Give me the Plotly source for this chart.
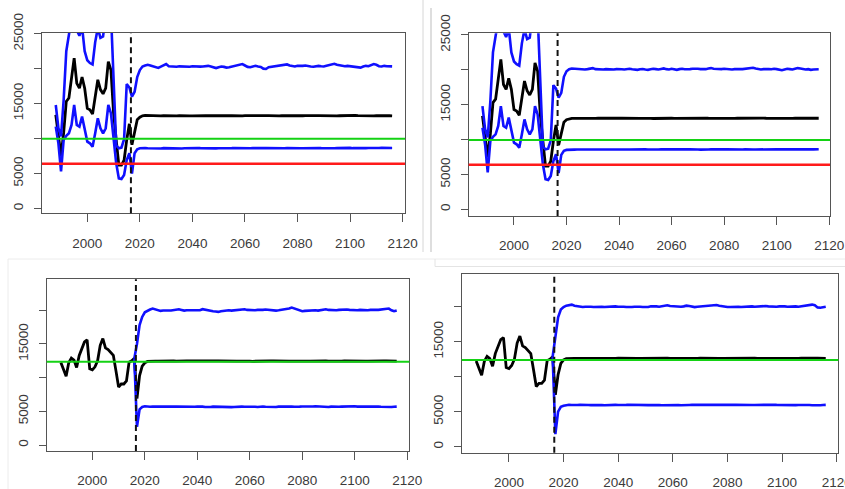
import plotly.graph_objects as go

W, H = 845, 489

HIST_START = 1988
PROJ_START = 2017
CUT_YEAR = 2016.6

# ---------------- top panels: historical estimate with interval ----------------
top_hist_mid = [13400, 10500, 7500, 10800, 15300, 15800, 18900, 21500, 17900, 17200,
                18800, 17200, 14300, 14100, 13500, 16000, 18400, 17000, 16400, 17200,
                21000, 19800, 13600, 9800, 6200, 6200, 6900, 9800, 12100]
top_hist_hi = [14800, 11500, 10300, 15500, 22500, 25500, 28000, 29500, 25500, 24700,
               26000, 22500, 21200, 20800, 20600, 23800, 25800, 24400, 24600, 27500,
               31000, 28000, 18000, 9000, 8600, 8700, 9900, 17800, 17300]
top_hist_lo = [11700, 9300, 5300, 9800, 10400, 10750, 11950, 14800, 11950, 11700,
               13150, 11470, 9560, 9320, 8840, 10750, 12900, 11470, 10750, 11470,
               14800, 13600, 9800, 6450, 4300, 4200, 4780, 6930, 7900]

# top-left projections (2017-2116)
tl_mid = [9100, 11000, 12700, 13050, 13250, 13300, 13280, 13250, 13270, 13300,
          13260, 13240, 13280, 13250, 13260, 13290, 13250, 13230, 13260, 13280,
          13300, 13260, 13240, 13250, 13270, 13260, 13230, 13250, 13280, 13260,
          13250, 13240, 13270, 13290, 13260, 13250, 13230, 13260, 13280, 13250,
          13240, 13220, 13250, 13270, 13260, 13280, 13300, 13270, 13250, 13240,
          13260, 13280, 13290, 13260, 13250, 13230, 13250, 13270, 13260, 13240,
          13260, 13280, 13300, 13270, 13250, 13260, 13280, 13260, 13240, 13250,
          13270, 13290, 13270, 13250, 13260, 13280, 13260, 13250, 13230, 13260,
          13280, 13270, 13250, 13260, 13290, 13300, 13270, 13250, 13240, 13260,
          13280, 13270, 13250, 13260, 13280, 13260, 13240, 13260, 13270, 13250]
tl_hi = [16000, 16700, 18800, 19800, 20300, 20450, 20550, 20450, 20350, 20250,
         20100, 20300, 20450, 20650, 20350, 20300, 20320, 20280, 20330, 20300,
         20350, 20300, 20280, 20340, 20300, 20330, 20290, 20310, 20350, 20400,
         20300, 20150, 20080, 20200, 20300, 20250, 20150, 20200, 20300, 20350,
         20400, 20500, 20650, 20450, 20250, 20200, 20350, 20400, 20300, 20250,
         20000, 19950, 20200, 20250, 20300, 20400, 20350, 20450, 20550, 20600,
         20450, 20350, 20300, 20400, 20350, 20400, 20450, 20350, 20300, 20280,
         20350, 20400, 20330, 20300, 20400, 20500, 20600, 20700, 20550, 20450,
         20400, 20350, 20400, 20350, 20300, 20200, 20100, 20150, 20300, 20400,
         20350, 20500, 20650, 20550, 20350, 20300, 20400, 20350, 20300, 20320]
tl_lo = [5000, 7900, 8450, 8600, 8650, 8620, 8600, 8580, 8620, 8640,
         8600, 8580, 8620, 8600, 8590, 8610, 8640, 8620, 8600, 8580,
         8600, 8620, 8650, 8680, 8700, 8650, 8620, 8600, 8580, 8600,
         8620, 8600, 8590, 8610, 8600, 8580, 8560, 8600, 8620, 8640,
         8620, 8600, 8580, 8560, 8580, 8600, 8620, 8600, 8580, 8600,
         8620, 8640, 8620, 8600, 8580, 8560, 8540, 8560, 8600, 8620,
         8600, 8620, 8640, 8620, 8600, 8610, 8630, 8600, 8580, 8600,
         8620, 8650, 8620, 8600, 8580, 8560, 8580, 8600, 8620, 8640,
         8620, 8600, 8640, 8660, 8620, 8600, 8580, 8560, 8580, 8620,
         8640, 8620, 8600, 8620, 8640, 8660, 8640, 8620, 8640, 8650]

# top-right projections (2017-2116)
tr_mid = [9200, 11000, 12500, 12850, 12980, 13030, 13050, 13040, 13060, 13050,
          13040, 13060, 13050, 13030, 13050, 13070, 13060, 13040, 13050, 13060,
          13070, 13050, 13040, 13060, 13080, 13060, 13040, 13030, 13050, 13070,
          13060, 13040, 13050, 13070, 13060, 13040, 13020, 13040, 13060, 13050,
          13040, 13060, 13080, 13060, 13040, 13050, 13070, 13060, 13040, 13030,
          13050, 13070, 13060, 13040, 13050, 13060, 13080, 13060, 13050, 13040,
          13060, 13050, 13030, 13050, 13070, 13060, 13040, 13050, 13060, 13070,
          13060, 13040, 13050, 13070, 13060, 13050, 13040, 13060, 13070, 13060,
          13050, 13040, 13060, 13080, 13070, 13050, 13060, 13070, 13060, 13050,
          13060, 13070, 13060, 13050, 13060, 13080, 13070, 13060, 13050, 13060]
tr_hi = [16000, 16700, 19000, 19800, 20100, 20200, 20150, 20100, 20050, 20100,
         20050, 20100, 20150, 20250, 20100, 20050, 20080, 20050, 20100, 20060,
         20080, 20050, 20100, 20120, 20080, 20050, 20100, 20150, 20080, 20050,
         20000, 20080, 20120, 20050, 20000, 20080, 20150, 20100, 20050, 20120,
         20200, 20100, 20050, 20150, 20080, 20000, 20100, 20150, 20080, 20050,
         20100, 20150, 20200, 20150, 20100, 20050, 20100, 20200, 20250, 20150,
         20100, 20050, 20100, 20150, 20100, 20080, 20050, 20100, 20150, 20120,
         20100, 20150, 20200, 20250, 20300, 20200, 20100, 20050, 20100, 20150,
         20100, 20080, 20150, 20100, 20000, 19950, 20050, 20150, 20100, 20050,
         20150, 20250, 20200, 20100, 20050, 20100, 20000, 20050, 20100, 20080]
tr_lo = [5200, 7800, 8400, 8520, 8560, 8580, 8560, 8570, 8580, 8560,
         8570, 8590, 8580, 8560, 8550, 8570, 8590, 8600, 8580, 8570,
         8580, 8600, 8620, 8640, 8620, 8600, 8580, 8570, 8590, 8600,
         8580, 8560, 8570, 8590, 8580, 8560, 8540, 8560, 8580, 8600,
         8590, 8570, 8560, 8580, 8600, 8580, 8560, 8550, 8570, 8590,
         8600, 8620, 8600, 8580, 8560, 8540, 8560, 8580, 8600, 8620,
         8600, 8580, 8590, 8610, 8600, 8580, 8560, 8580, 8600, 8590,
         8580, 8600, 8620, 8600, 8580, 8570, 8590, 8610, 8600, 8580,
         8560, 8580, 8600, 8620, 8600, 8580, 8560, 8570, 8590, 8600,
         8620, 8600, 8580, 8590, 8610, 8620, 8600, 8590, 8600, 8610]

# ---------------- bottom panels: historical series only ----------------
bot_hist_mid = [12250, 11200, 10200, 12200, 12900, 12600, 11500, 13300, 14300, 15300,
                15600, 11300, 11150, 11600, 12500, 14800, 15800, 14400, 14150, 13700,
                13300, 11000, 8600, 9050, 9050, 9500, 12300, 12500, 12850]

bl_mid = [6900, 10300, 11700, 12200, 12400, 12450, 12470, 12450, 12440, 12460,
          12480, 12460, 12440, 12450, 12470, 12460, 12440, 12430, 12450, 12470,
          12480, 12460, 12450, 12440, 12460, 12480, 12470, 12450, 12440, 12460,
          12470, 12490, 12470, 12450, 12430, 12450, 12470, 12460, 12440, 12450,
          12470, 12480, 12460, 12440, 12420, 12440, 12460, 12470, 12450, 12440,
          12460, 12480, 12470, 12450, 12460, 12480, 12490, 12470, 12450, 12460,
          12440, 12450, 12470, 12480, 12460, 12440, 12450, 12470, 12460, 12450,
          12470, 12490, 12480, 12460, 12440, 12450, 12470, 12460, 12450, 12470,
          12480, 12470, 12450, 12460, 12480, 12500, 12480, 12460, 12450, 12470,
          12480, 12460, 12450, 12470, 12490, 12480, 12470, 12460, 12470, 12460]
bl_hi = [15000, 17800, 19000, 19700, 19950, 20100, 20250, 20100, 19950, 19900,
         19950, 20000, 19950, 19950, 20050, 20100, 20150, 20050, 19950, 20000,
         20000, 19950, 20050, 20050, 20000, 20150, 20050, 19950, 19900, 19850,
         19800, 19750, 19850, 19900, 20000, 20000, 19950, 20000, 20050, 20100,
         20200, 20150, 20050, 20000, 19950, 20000, 20050, 20000, 20050, 20100,
         20050, 20000, 19950, 19950, 20000, 20050, 20100, 20150, 20250, 20400,
         20250, 20100, 19950, 19850, 19900, 19950, 20000, 20050, 20000, 19950,
         20000, 20100, 20150, 20050, 20000, 19950, 20000, 20050, 20100, 20150,
         20100, 20050, 20000, 19950, 20000, 20050, 20000, 19950, 20000, 20050,
         20100, 20050, 20050, 20100, 20200, 20300, 20250, 20000, 19850, 19950]
bl_lo = [2700, 5300, 5650, 5750, 5700, 5680, 5720, 5700, 5650, 5680,
         5700, 5720, 5680, 5650, 5700, 5720, 5700, 5680, 5650, 5700,
         5720, 5700, 5680, 5700, 5740, 5700, 5650, 5620, 5650, 5700,
         5680, 5700, 5720, 5680, 5650, 5600, 5620, 5650, 5700, 5720,
         5700, 5680, 5700, 5740, 5720, 5680, 5650, 5700, 5720, 5680,
         5650, 5600, 5620, 5650, 5700, 5720, 5680, 5700, 5740, 5720,
         5680, 5650, 5700, 5720, 5700, 5680, 5700, 5720, 5740, 5700,
         5680, 5700, 5660, 5650, 5700, 5730, 5700, 5680, 5700, 5720,
         5700, 5680, 5720, 5740, 5700, 5680, 5650, 5680, 5700, 5720,
         5740, 5720, 5700, 5680, 5650, 5630, 5600, 5640, 5680, 5700]

br_mid = [7400, 10300, 11900, 12400, 12580, 12620, 12640, 12620, 12610, 12630,
          12620, 12600, 12620, 12640, 12630, 12610, 12600, 12620, 12640, 12630,
          12620, 12610, 12630, 12650, 12630, 12610, 12620, 12640, 12620, 12600,
          12610, 12630, 12640, 12620, 12600, 12610, 12630, 12620, 12610, 12630,
          12650, 12640, 12620, 12610, 12630, 12620, 12600, 12620, 12640, 12630,
          12610, 12600, 12620, 12640, 12650, 12630, 12620, 12610, 12630, 12640,
          12620, 12600, 12610, 12630, 12640, 12620, 12610, 12630, 12650, 12640,
          12620, 12610, 12630, 12640, 12620, 12610, 12630, 12650, 12640, 12620,
          12610, 12630, 12640, 12620, 12630, 12650, 12640, 12620, 12610, 12630,
          12640, 12660, 12640, 12620, 12630, 12650, 12640, 12630, 12620, 12630]
br_hi = [15900, 18500, 19600, 19950, 20150, 20250, 20300, 20150, 20050, 20000,
         19950, 20000, 20050, 20000, 19950, 19980, 20020, 20000, 19950, 20000,
         20050, 20100, 20050, 20000, 20050, 20000, 19950, 19900, 19950, 20000,
         20050, 20000, 19950, 19900, 19950, 20050, 20100, 20050, 20000, 20050,
         20100, 20200, 20100, 20050, 20000, 19950, 20000, 20050, 20150, 20100,
         20000, 19950, 20000, 20050, 20100, 20050, 20100, 20150, 20200, 20250,
         20150, 20050, 20000, 19950, 19950, 20000, 20050, 20000, 19950, 20000,
         20050, 20100, 20050, 20000, 20050, 20100, 20150, 20100, 20050, 20000,
         19950, 20000, 20050, 20100, 20050, 20000, 20050, 20100, 20050, 20000,
         20050, 20100, 20150, 20250, 20300, 20200, 19900, 19850, 19950, 20000]
br_lo = [1800, 5000, 5700, 5850, 5950, 5980, 5950, 5920, 5950, 5980,
         6000, 5970, 5950, 5940, 5960, 5980, 5970, 5950, 5930, 5960,
         5980, 6000, 5980, 5950, 5930, 5950, 5970, 5990, 5970, 5950,
         5930, 5950, 5980, 5960, 5940, 5950, 5970, 5960, 5940, 5920,
         5940, 5960, 5980, 6000, 5980, 5950, 5920, 5900, 5930, 5960,
         5980, 5960, 5940, 5950, 5970, 5990, 5970, 5950, 5930, 5950,
         5970, 5990, 5960, 5940, 5950, 5970, 5980, 5960, 5950, 5970,
         5990, 5970, 5950, 5960, 5980, 5960, 5940, 5950, 5970, 5990,
         6000, 5980, 5960, 5950, 5970, 5990, 5980, 5960, 5940, 5960,
         5980, 6000, 5980, 5950, 5930, 5910, 5900, 5930, 5960, 5980]

# reference levels
top_green = [9950, 9950]
top_red = [6400, 6400]
bot_green = [12350, 12400]

x_ticks = [2000, 2020, 2040, 2060, 2080, 2100, 2120]
x_tick_text = ["2000", "2020", "2040", "2060", "2080", "2100", "2120"]
top_y_ticks = [0, 5000, 10000, 15000, 20000, 25000]
top_y_text = ["0", "5000", "", "15000", "", "25000"]
bot_y_ticks = [0, 5000, 10000, 15000, 20000]
bot_y_text = ["0", "5000", "", "15000", ""]

# ---------------- layout geometry (pixels) ----------------
# (left, right, top, bottom), x range, y range
panels = [
    dict(box=(42, 405, 33, 213.3), xr=[1982.76, 2120.9], yr=[-700, 25100]),
    dict(box=(468.7, 830, 33.3, 216), xr=[1982.76, 2120.3], yr=[-960, 25240]),
    dict(box=(46.7, 409.3, 279.3, 451), xr=[1982.6, 2120.8], yr=[-890, 24590]),
    dict(box=(461.7, 838.3, 274.3, 452.7), xr=[1982.7, 2120.6], yr=[-857, 24630]),
]

BLACK = "#000000"
BLUE = "#1010ff"
GREEN = "#14d214"
RED = "#ff1a1a"
AXC = "#555555"
TXT = "#3a3a3a"
FONT = dict(family="Liberation Sans, Arial, sans-serif", size=13.5, color=TXT)

fig = go.Figure()

years_hist = list(range(HIST_START, HIST_START + len(top_hist_mid)))
years_proj = list(range(PROJ_START, PROJ_START + len(tl_mid)))
years_all = years_hist + years_proj
last_hist = years_hist[-1]


def add_line(idx, x, y, color, width):
    sfx = "" if idx == 1 else str(idx)
    fig.add_trace(go.Scatter(x=x, y=y, mode="lines",
                             line=dict(color=color, width=width),
                             xaxis="x" + sfx, yaxis="y" + sfx,
                             showlegend=False, hoverinfo="skip"))


# top-left
add_line(1, years_all, top_hist_mid + tl_mid, BLACK, 2.8)
add_line(1, years_all, top_hist_hi + tl_hi, BLUE, 2.6)
add_line(1, years_all, top_hist_lo + tl_lo, BLUE, 2.6)
# top-right
add_line(2, years_all, top_hist_mid + tr_mid, BLACK, 2.8)
add_line(2, years_all, top_hist_hi + tr_hi, BLUE, 2.6)
add_line(2, years_all, top_hist_lo + tr_lo, BLUE, 2.6)
# bottom-left
add_line(3, years_all, bot_hist_mid + bl_mid, BLACK, 2.8)
add_line(3, [last_hist] + years_proj, [bot_hist_mid[-1]] + bl_hi, BLUE, 2.6)
add_line(3, [last_hist] + years_proj, [bot_hist_mid[-1]] + bl_lo, BLUE, 2.6)
# bottom-right
add_line(4, years_all, bot_hist_mid + br_mid, BLACK, 2.8)
add_line(4, [last_hist] + years_proj, [bot_hist_mid[-1]] + br_hi, BLUE, 2.6)
add_line(4, [last_hist] + years_proj, [bot_hist_mid[-1]] + br_lo, BLUE, 2.6)

layout = dict(width=W, height=H, margin=dict(l=0, r=0, t=0, b=0, autoexpand=False),
              paper_bgcolor="white", plot_bgcolor="white", showlegend=False,
              font=FONT)

shapes = []
for i, p in enumerate(panels, start=1):
    l, r, t, b = p["box"]
    sfx = "" if i == 1 else str(i)
    top = i <= 2
    layout["xaxis" + sfx] = dict(
        domain=[l / W, r / W], range=p["xr"], anchor="y" + sfx,
        tickmode="array", tickvals=x_ticks, ticktext=x_tick_text,
        showgrid=False, zeroline=False, showline=True, mirror=True,
        linecolor=AXC, linewidth=1.3, ticks="outside", ticklen=8,
        tickcolor=AXC, tickwidth=1.2, ticklabelstandoff=9, tickfont=FONT,
        ticklabeloverflow="allow", automargin=False)
    layout["yaxis" + sfx] = dict(
        domain=[1 - b / H, 1 - t / H], range=p["yr"], anchor="x" + sfx,
        tickmode="array",
        tickvals=top_y_ticks if top else bot_y_ticks,
        ticktext=top_y_text if top else bot_y_text,
        tickangle=-90,
        showgrid=False, zeroline=False, showline=True, mirror=True,
        linecolor=AXC, linewidth=1.3, ticks="outside", ticklen=7,
        tickcolor=AXC, tickwidth=1.2, ticklabelstandoff=5, tickfont=FONT,
        ticklabeloverflow="allow", automargin=False)
    # vertical dashed line at the start of the projection
    shapes.append(dict(type="line", xref="x" + sfx, yref="y" + sfx + " domain",
                       x0=CUT_YEAR, x1=CUT_YEAR, y0=0, y1=1,
                       line=dict(color="#111111", width=2, dash="6px,4px")))
    if top:
        shapes.append(dict(type="line", xref="x" + sfx + " domain", yref="y" + sfx,
                           x0=0, x1=1, y0=top_green[i - 1], y1=top_green[i - 1],
                           line=dict(color=GREEN, width=2)))
        shapes.append(dict(type="line", xref="x" + sfx + " domain", yref="y" + sfx,
                           x0=0, x1=1, y0=top_red[i - 1], y1=top_red[i - 1],
                           line=dict(color=RED, width=2.4)))
    else:
        shapes.append(dict(type="line", xref="x" + sfx + " domain", yref="y" + sfx,
                           x0=0, x1=1, y0=bot_green[i - 3], y1=bot_green[i - 3],
                           line=dict(color=GREEN, width=2)))


def pline(x0, y0, x1, y1, color):
    shapes.append(dict(type="line", xref="paper", yref="paper",
                       x0=x0 / W, x1=x1 / W, y0=1 - y0 / H, y1=1 - y1 / H,
                       line=dict(color=color, width=1)))


# faint screenshot separators
pline(423, 0, 423, 252, "#d6d6d6")
pline(431, 8, 431, 252, "#bdbdbd")
pline(8, 259, 420, 259, "#ececec")
pline(8, 259, 8, 489, "#ececec")
pline(420, 259, 845, 259, "#ececec")
pline(435, 266.5, 845, 266.5, "#e4e4e4")
pline(435, 259, 435, 266.5, "#e4e4e4")

layout["shapes"] = shapes
fig.update_layout(**layout)
fig.write_html(
    "out.html",
    config={"displayModeBar": False},
    post_script="document.body.style.margin='0px';document.body.style.overflow='hidden';",
)
